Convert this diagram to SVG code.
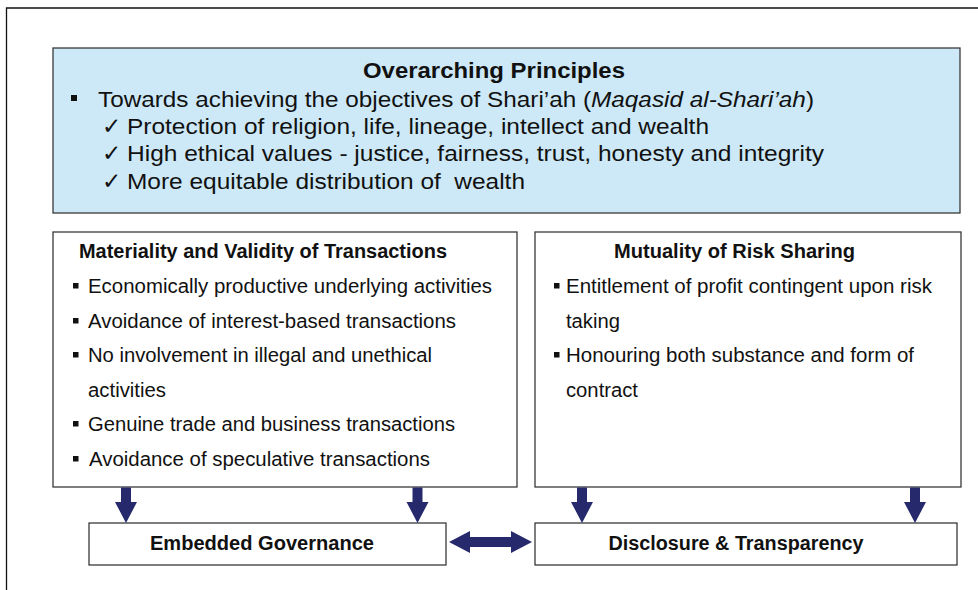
<svg xmlns="http://www.w3.org/2000/svg" width="978" height="590" viewBox="0 0 978 590">
<style>
.box{fill:#ffffff;stroke:#3a3a3a;stroke-width:1.3}
.top{fill:#cde9f7;stroke:#3a3a3a;stroke-width:1.3}
.t{font-family:"Liberation Sans",Arial,Helvetica,sans-serif;fill:#111}
.b{font-weight:bold}
.big{font-size:22.5px}
.med{font-size:19.5px}
.chk{font-family:"DejaVu Sans",sans-serif;font-size:23px;fill:#111}
.sq{fill:#111}
.arr{fill:#262a6c}
</style>
<rect width="978" height="590" fill="#ffffff"/>
<path d="M6.5 590 V8 H978" fill="none" stroke="#111" stroke-width="1.3"/>

<g id="principles">
<rect class="top" x="53" y="48" width="907" height="165"/>
<text class="t b big" x="494" y="78" text-anchor="middle" textLength="262" lengthAdjust="spacingAndGlyphs">Overarching Principles</text>
<rect class="sq" x="71" y="95" width="6" height="6"/>
<text class="t big" x="98" y="107" textLength="716" lengthAdjust="spacingAndGlyphs">Towards achieving the objectives of Shari’ah (<tspan font-style="italic">Maqasid al-Shari’ah</tspan>)</text>
<text class="chk" x="102" y="134">✓</text>
<text class="t big" x="127" y="134" textLength="582" lengthAdjust="spacingAndGlyphs">Protection of religion, life, lineage, intellect and wealth</text>
<text class="chk" x="102" y="161">✓</text>
<text class="t big" x="127" y="161" textLength="697" lengthAdjust="spacingAndGlyphs">High ethical values - justice, fairness, trust, honesty and integrity</text>
<text class="chk" x="102" y="189">✓</text>
<text class="t big" x="127" y="189" textLength="398" lengthAdjust="spacingAndGlyphs" xml:space="preserve">More equitable distribution of  wealth</text>
</g>

<g id="materiality">
<rect class="box" x="53" y="232" width="464" height="255"/>
<text class="t b med" x="79" y="258" textLength="368" lengthAdjust="spacingAndGlyphs">Materiality and Validity of Transactions</text>
<rect class="sq" x="73" y="283" width="5.5" height="5.5"/>
<text class="t med" x="88" y="292.5" textLength="404" lengthAdjust="spacingAndGlyphs">Economically productive underlying activities</text>
<rect class="sq" x="73" y="318" width="5.5" height="5.5"/>
<text class="t med" x="88" y="327.5" textLength="368" lengthAdjust="spacingAndGlyphs">Avoidance of interest-based transactions</text>
<rect class="sq" x="73" y="352" width="5.5" height="5.5"/>
<text class="t med" x="88" y="361.5" textLength="344" lengthAdjust="spacingAndGlyphs">No involvement in illegal and unethical</text>
<text class="t med" x="88" y="396.5" textLength="78" lengthAdjust="spacingAndGlyphs">activities</text>
<rect class="sq" x="73" y="421" width="5.5" height="5.5"/>
<text class="t med" x="88" y="430.5" textLength="367" lengthAdjust="spacingAndGlyphs">Genuine trade and business transactions</text>
<rect class="sq" x="73" y="456" width="5.5" height="5.5"/>
<text class="t med" x="89" y="465.5" textLength="341" lengthAdjust="spacingAndGlyphs">Avoidance of speculative transactions</text>
</g>

<g id="risk-sharing">
<rect class="box" x="535" y="232" width="426" height="255"/>
<text class="t b med" x="734.5" y="258" text-anchor="middle" textLength="241" lengthAdjust="spacingAndGlyphs">Mutuality of Risk Sharing</text>
<rect class="sq" x="554" y="283" width="5.5" height="5.5"/>
<text class="t med" x="566" y="292.5" textLength="366" lengthAdjust="spacingAndGlyphs">Entitlement of profit contingent upon risk</text>
<text class="t med" x="566" y="327.5" textLength="54" lengthAdjust="spacingAndGlyphs">taking</text>
<rect class="sq" x="554" y="352" width="5.5" height="5.5"/>
<text class="t med" x="566" y="361.5" textLength="348" lengthAdjust="spacingAndGlyphs">Honouring both substance and form of</text>
<text class="t med" x="566" y="396.5" textLength="72" lengthAdjust="spacingAndGlyphs">contract</text>
</g>

<g id="governance">
<rect class="box" x="89" y="523" width="357" height="42"/>
<text class="t b med" x="262" y="550" text-anchor="middle" textLength="224" lengthAdjust="spacingAndGlyphs">Embedded Governance</text>
</g>

<g id="disclosure">
<rect class="box" x="535" y="523" width="422" height="42"/>
<text class="t b med" x="736" y="550" text-anchor="middle" textLength="255" lengthAdjust="spacingAndGlyphs">Disclosure &amp; Transparency</text>
</g>

<g id="connectors">
<path class="arr" d="M121 487.5 H131 V502 H137 L126 523 L115 502 H121 Z"/>
<path class="arr" d="M412.5 487.5 H422.5 V502 H428.5 L417.5 523 L406.5 502 H412.5 Z"/>
<path class="arr" d="M577 487.5 H587 V502 H593 L582 523 L571 502 H577 Z"/>
<path class="arr" d="M910 487.5 H920 V502 H926 L915 523 L904 502 H910 Z"/>
<path class="arr" d="M449 542 L470 531 V537 H511 V531 L532 542 L511 553 V547 H470 V553 Z"/>
</g>
</svg>
